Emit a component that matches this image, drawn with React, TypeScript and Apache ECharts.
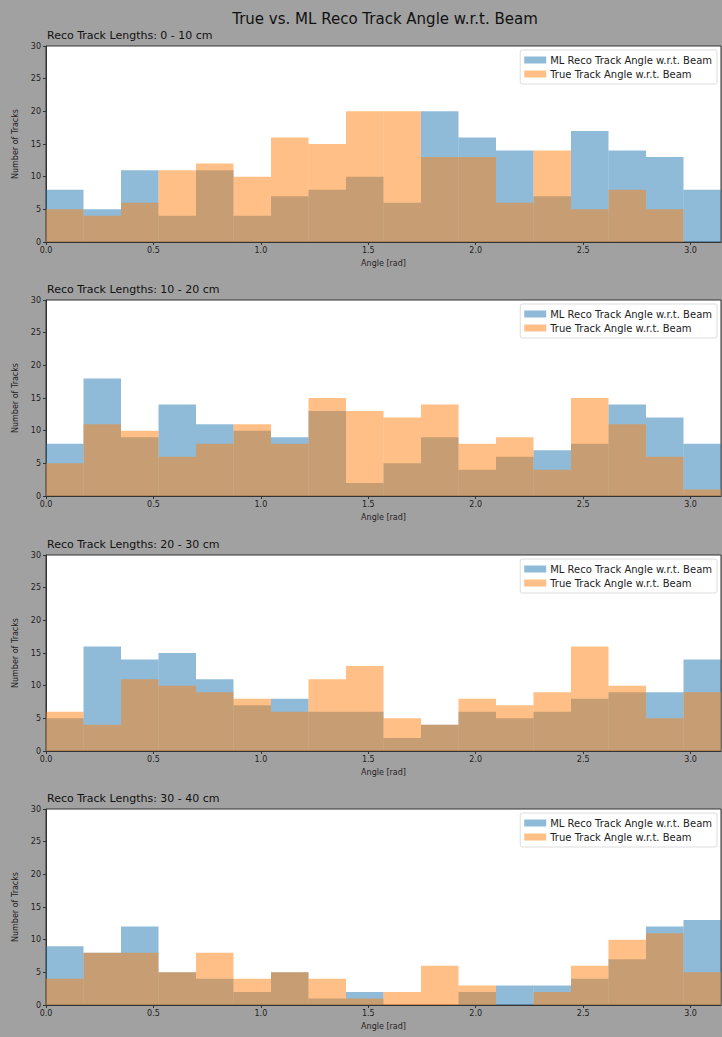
import React, { useEffect, useRef } from "react";
import * as echarts from "echarts";

const PANEL_TITLES = [
  "Reco Track Lengths: 0 - 10 cm",
  "Reco Track Lengths: 10 - 20 cm",
  "Reco Track Lengths: 20 - 30 cm",
  "Reco Track Lengths: 30 - 40 cm",
];
const RECO_NAME = "ML Reco Track Angle w.r.t. Beam";
const TRUE_NAME = "True Track Angle w.r.t. Beam";
const N_BINS = 18;

const reco0 = [8, 5, 11, 4, 11, 4, 7, 8, 10, 6, 20, 16, 14, 7, 17, 14, 13, 8];
const true0 = [5, 4, 6, 11, 12, 10, 16, 15, 20, 20, 13, 13, 6, 14, 5, 8, 5, 0];
const reco1 = [8, 18, 9, 14, 11, 10, 9, 13, 2, 5, 9, 4, 6, 7, 8, 14, 12, 8];
const true1 = [5, 11, 10, 6, 8, 11, 8, 15, 13, 12, 14, 8, 9, 4, 15, 11, 6, 1];
const reco2 = [5, 16, 14, 15, 11, 7, 8, 6, 6, 2, 4, 6, 5, 6, 8, 9, 9, 14];
const true2 = [6, 4, 11, 10, 9, 8, 6, 11, 13, 5, 4, 8, 7, 9, 16, 10, 5, 9];
const reco3 = [9, 8, 12, 5, 4, 2, 5, 1, 2, 0, 0, 2, 3, 3, 4, 7, 12, 13];
const true3 = [4, 8, 8, 5, 8, 4, 5, 4, 1, 2, 6, 3, 0, 2, 6, 10, 11, 5];

const RECO = [reco0, reco1, reco2, reco3];
const TRUE = [true0, true1, true2, true3];

const Y_TICKS = [0, 5, 10, 15, 20, 25, 30];

const FONT = "DejaVu Sans";
const GRID_TOPS = [46, 300, 555, 809];
const GRID_LEFT = 46;
const GRID_W = 675;
const GRID_H = 196;

const BLUE = "rgba(31,119,180,0.5)";
const ORANGE = "rgba(255,127,14,0.5)";

function toBins(vals: number[]) {
  const w = Math.PI / N_BINS;
  return vals.map((v, i) => [i * w, (i + 1) * w, v]);
}

export default function App() {
  const ref = useRef<HTMLDivElement>(null);
  useEffect(() => {
    if (!ref.current) return;
    const chart = echarts.init(ref.current, null, { renderer: "svg" });
    const renderItem = (color: string) => (params: any, api: any) => {
      const p0 = api.coord([api.value(0), api.value(2)]);
      const p1 = api.coord([api.value(1), 0]);
      return {
        type: "rect",
        shape: { x: p0[0], y: p0[1], width: p1[0] - p0[0], height: p1[1] - p0[1] },
        style: { fill: color },
      };
    };
    const grids = GRID_TOPS.map((t) => ({
      left: GRID_LEFT,
      top: t,
      width: GRID_W,
      height: GRID_H,
      show: true,
      backgroundColor: "#ffffff",
      borderColor: "#333",
      borderWidth: 1,
    }));
    const xAxes = GRID_TOPS.map((_, k) => ({
      type: "value",
      gridIndex: k,
      min: 0,
      max: Math.PI,
      interval: 0.5,
      name: "Angle [rad]",
      nameLocation: "middle",
      nameGap: 17,
      nameTextStyle: { fontFamily: FONT, fontSize: 8, color: "#222" },
      axisLine: { show: true, lineStyle: { color: "#333" } },
      axisTick: { show: true, length: 3, lineStyle: { color: "#333" } },
      axisLabel: {
        fontFamily: FONT,
        fontSize: 8,
        color: "#222",
        margin: 4,
        showMaxLabel: false,
        formatter: (v: number) => (Math.abs(v / 0.5 - Math.round(v / 0.5)) < 1e-6 ? v.toFixed(1) : ""),
      },
      splitLine: { show: false },
    }));
    const yAxes = GRID_TOPS.map((_, k) => ({
      type: "value",
      gridIndex: k,
      min: Y_TICKS[0],
      max: Y_TICKS[Y_TICKS.length - 1],
      interval: Y_TICKS[1] - Y_TICKS[0],
      name: "Number of Tracks",
      nameLocation: "middle",
      nameGap: 26,
      nameTextStyle: { fontFamily: FONT, fontSize: 8, color: "#222" },
      axisLine: { show: true, lineStyle: { color: "#333" } },
      axisTick: { show: true, length: 3, lineStyle: { color: "#333" } },
      axisLabel: { fontFamily: FONT, fontSize: 8, color: "#222", margin: 5 },
      splitLine: { show: false },
    }));
    const series: any[] = [];
    GRID_TOPS.forEach((_, k) => {
      series.push({
        type: "custom",
        name: RECO_NAME,
        xAxisIndex: k,
        yAxisIndex: k,
        itemStyle: { color: BLUE },
        renderItem: renderItem(BLUE),
        encode: { x: [0, 1], y: 2 },
        data: toBins(RECO[k]),
      });
      series.push({
        type: "custom",
        name: TRUE_NAME,
        xAxisIndex: k,
        yAxisIndex: k,
        itemStyle: { color: ORANGE },
        renderItem: renderItem(ORANGE),
        encode: { x: [0, 1], y: 2 },
        data: toBins(TRUE[k]),
      });
    });
    const legends = GRID_TOPS.map((t) => ({
      data: [RECO_NAME, TRUE_NAME],
      orient: "vertical",
      right: 5,
      top: t + 4,
      icon: "rect",
      itemWidth: 22,
      itemHeight: 7,
      itemGap: 4,
      padding: [5, 5, 5, 4],
      backgroundColor: "#ffffff",
      borderColor: "#dddddd",
      borderWidth: 1,
      borderRadius: 2,
      selectedMode: false,
      textStyle: { fontFamily: FONT, fontSize: 10, color: "#222", padding: [0, 0, 0, -1] },
    }));
    const titles: any[] = [
      {
        text: "True vs. ML Reco Track Angle w.r.t. Beam",
        left: 380,
        textAlign: "center",
        top: 6,
        textStyle: { fontFamily: FONT, fontSize: 15, fontWeight: "normal", color: "#111" },
      },
      ...PANEL_TITLES.map((s, k) => ({
        text: s,
        left: GRID_LEFT + 1,
        top: GRID_TOPS[k] - 16,
        padding: 0,
        textStyle: { fontFamily: FONT, fontSize: 11, fontWeight: "normal", color: "#111" },
      })),
    ];
    chart.setOption({
      animation: false,
      backgroundColor: "#a1a1a1",
      title: titles,
      grid: grids,
      xAxis: xAxes,
      yAxis: yAxes,
      legend: legends,
      series,
    });
    return () => chart.dispose();
  }, []);
  return (
    <div
      ref={ref}
      style={{ position: "fixed", left: 0, top: 0, width: 722, height: 1037 }}
    />
  );
}
